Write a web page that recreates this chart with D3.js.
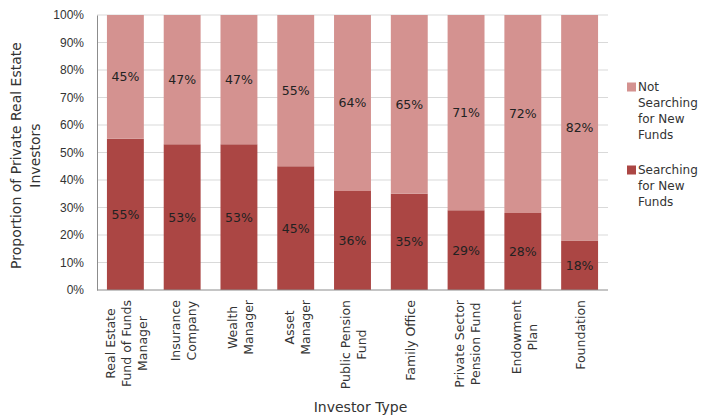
<!DOCTYPE html>
<html>
<head>
<meta charset="utf-8">
<script src="https://cdn.jsdelivr.net/npm/d3@7"></script>
<style>
  body { margin: 0; background: #fff; }
  svg { font-family: "DejaVu Sans", "Open Sans", sans-serif; }
</style>
</head>
<body>
<svg id="chart" width="703" height="418"></svg>
<script>
// data
const investorTypes = [
  ["Real Estate", "Fund of Funds", "Manager"],
  ["Insurance", "Company"],
  ["Wealth", "Manager"],
  ["Asset", "Manager"],
  ["Public Pension", "Fund"],
  ["Family Office"],
  ["Private Sector", "Pension Fund"],
  ["Endowment", "Plan"],
  ["Foundation"]
];
const searching = [55, 53, 53, 45, 36, 35, 29, 28, 18];
const notSearching = [45, 47, 47, 55, 64, 65, 71, 72, 82];
const yTicks = [0, 10, 20, 30, 40, 50, 60, 70, 80, 90, 100];
const seriesNames = ["Not Searching for New Funds", "Searching for New Funds"];

const colDark = "#ab4644";
const colLight = "#d49290";

const svg = d3.select("#chart");
const margin = { left: 97, right: 95, top: 15, bottom: 128 };
const width = 703 - margin.left - margin.right;
const height = 418 - margin.top - margin.bottom;

const g = svg.append("g").attr("transform", `translate(${margin.left},${margin.top})`);

const x = d3.scaleBand()
  .domain(d3.range(investorTypes.length))
  .range([0, width])
  .paddingInner(0.35)
  .paddingOuter(0.175);

const y = d3.scaleLinear().domain([0, 100]).range([height, 0]);

// gridlines
g.selectAll(".grid")
  .data(yTicks.slice(1))
  .join("line")
  .attr("x1", 0)
  .attr("x2", width)
  .attr("y1", (d) => y(d))
  .attr("y2", (d) => y(d))
  .attr("stroke", "#d9d9d9")
  .attr("stroke-width", 1);

// stacked data
const rows = searching.map((s, i) => ({ i: i, s: s, n: notSearching[i] }));

// searching (bottom)
g.selectAll(".barS")
  .data(rows)
  .join("rect")
  .attr("x", (d) => x(d.i))
  .attr("width", x.bandwidth())
  .attr("y", (d) => y(d.s))
  .attr("height", (d) => y(0) - y(d.s))
  .attr("fill", colDark);

// not searching (top)
g.selectAll(".barN")
  .data(rows)
  .join("rect")
  .attr("x", (d) => x(d.i))
  .attr("width", x.bandwidth())
  .attr("y", (d) => y(d.s + d.n))
  .attr("height", (d) => y(d.s) - y(d.s + d.n))
  .attr("fill", colLight);

// value labels
const labelSize = 12.5;
g.selectAll(".lblS")
  .data(rows)
  .join("text")
  .attr("x", (d) => x(d.i) + x.bandwidth() / 2)
  .attr("y", (d) => y(d.s / 2))
  .attr("dy", "0.35em")
  .attr("text-anchor", "middle")
  .attr("font-size", labelSize)
  .attr("fill", "#222")
  .text((d) => d.s + "%");

g.selectAll(".lblN")
  .data(rows)
  .join("text")
  .attr("x", (d) => x(d.i) + x.bandwidth() / 2)
  .attr("y", (d) => y(d.s + d.n / 2))
  .attr("dy", "0.35em")
  .attr("text-anchor", "middle")
  .attr("font-size", labelSize)
  .attr("fill", "#222")
  .text((d) => d.n + "%");

// y axis
const yAxis = g.append("g")
  .call(d3.axisLeft(y).tickValues(yTicks).tickFormat((d) => d + "%").tickSize(0).tickPadding(13));
yAxis.select(".domain").attr("stroke", "#8c8c8c");
yAxis.selectAll("text").attr("font-size", 12).attr("fill", "#333").attr("font-family", null);

// x axis line
g.append("line")
  .attr("x1", 0).attr("x2", width)
  .attr("y1", height).attr("y2", height)
  .attr("stroke", "#8c8c8c");

// x category labels (rotated, lines centred, block hanging from the axis)
const xLabelTop = height + 10;
const lineGap = 16;
investorTypes.forEach((lines, i) => {
  const cx = x(i) + x.bandwidth() / 2;
  const grp = g.append("g");
  const texts = lines.map((ln, k) =>
    grp.append("text")
      .attr("font-size", 12.5)
      .attr("fill", "#333")
      .attr("text-anchor", "middle")
      .attr("dy", "0.35em")
      .text(ln)
  );
  const maxW = d3.max(texts, (t) => t.node().getComputedTextLength());
  const midY = xLabelTop + maxW / 2;
  texts.forEach((t, k) => {
    const off = (k - (lines.length - 1) / 2) * lineGap + 1.5;
    t.attr("transform", `translate(${cx + off},${midY}) rotate(-90)`);
  });
});

// axis titles
g.append("text")
  .attr("x", (x.range()[0] + x.range()[1]) / 2 + 8)
  .attr("y", 407 - margin.top)
  .attr("dy", "0.35em")
  .attr("text-anchor", "middle")
  .attr("font-size", 14)
  .attr("fill", "#333")
  .text("Investor Type");

const yTitle = svg.append("text")
  .attr("transform", `translate(16,${margin.top + height / 2 + 3}) rotate(-90)`)
  .attr("text-anchor", "middle")
  .attr("font-size", 14)
  .attr("fill", "#333");
yTitle.append("tspan").attr("x", 0).attr("dy", "0.35em").text("Proportion of Private Real Estate");
yTitle.append("tspan").attr("x", 0).attr("dy", "1.35em").text("Investors");

// legend
const legend = svg.append("g");
const legendItems = [
  { lines: ["Not", "Searching", "for New", "Funds"], color: colLight, top: 87 },
  { lines: ["Searching", "for New", "Funds"], color: colDark, top: 170 }
];
legendItems.forEach((it) => {
  legend.append("rect")
    .attr("x", 627).attr("y", it.top - 4.5)
    .attr("width", 9).attr("height", 9)
    .attr("fill", it.color);
  it.lines.forEach((ln, k) => {
    legend.append("text")
      .attr("x", 638)
      .attr("y", it.top + k * 16)
      .attr("dy", "0.35em")
      .attr("font-size", 12)
      .attr("fill", "#333")
      .text(ln);
  });
});
</script>
</body>
</html>
